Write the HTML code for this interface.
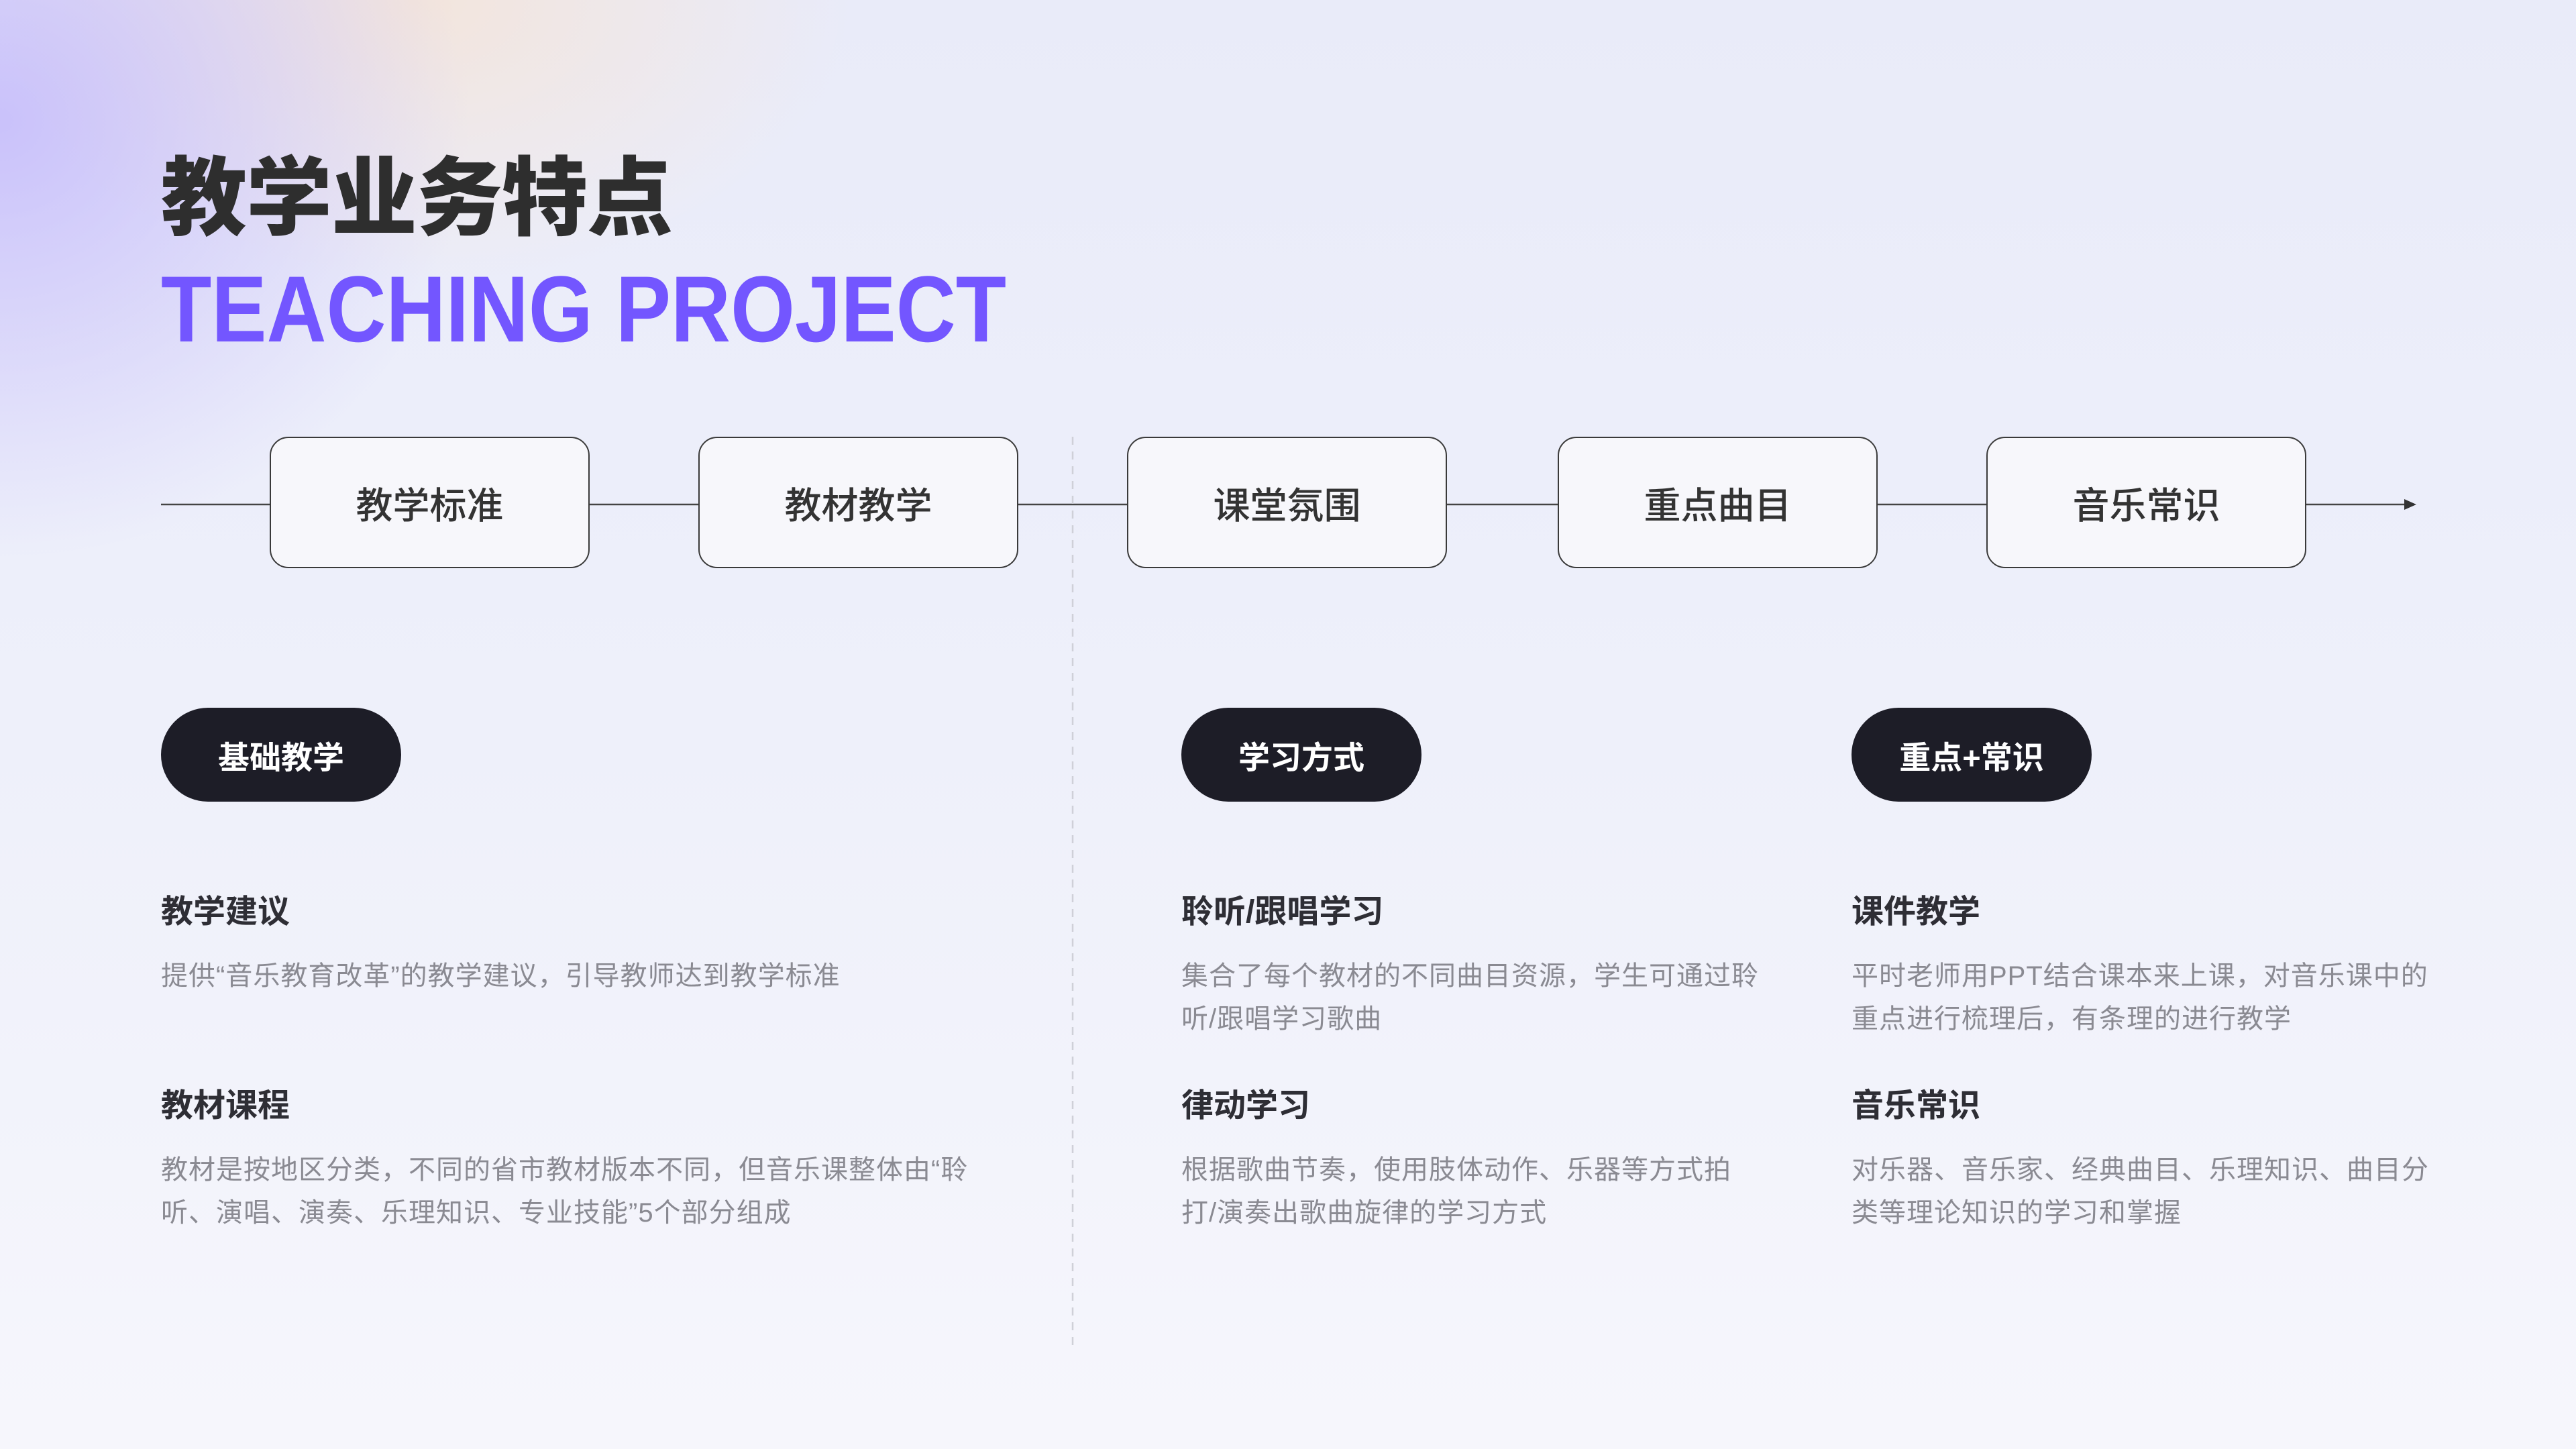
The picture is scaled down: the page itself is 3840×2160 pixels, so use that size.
<!DOCTYPE html>
<html><head><meta charset="utf-8"><style>
*{margin:0;padding:0;box-sizing:border-box}
body{width:3840px;height:2160px;position:relative;overflow:hidden;font-family:"Liberation Sans","Noto Sans CJK SC",sans-serif;
background:
radial-gradient(ellipse 700px 650px at 0px 180px, rgba(196,186,250,0.85), rgba(196,186,250,0) 100%),
radial-gradient(ellipse 650px 420px at 620px 0px, rgba(245,228,215,0.85), rgba(245,228,215,0) 100%),
linear-gradient(180deg,#e9ebf9 0%,#eef0fa 50%,#f6f6fc 100%);}
.abs{position:absolute}
.box{position:absolute;top:651px;width:477px;height:196px;border:2.5px solid #3a3a3a;border-radius:28px;background:#f7f7fb;display:flex;align-items:center;justify-content:center;font-size:55px;font-weight:500;color:#333}
.pill{position:absolute;top:1055px;width:358px;height:140px;border-radius:70px;background:#1d1d27;color:#fff;font-size:47px;font-weight:700;display:flex;align-items:center;justify-content:center}
.h{position:absolute;font-size:48px;font-weight:700;color:#2e2e35;line-height:64px}
.p{position:absolute;font-size:40px;color:#8a8a92;line-height:64px;white-space:nowrap;letter-spacing:1px}
</style></head><body>
<div class="abs" style="left:240px;top:222px;font-size:128px;font-weight:900;color:#2e2e2e;line-height:150px;letter-spacing:-1px">教学业务特点</div>
<svg class="abs" style="left:0;top:0" width="3840" height="2160">
<text x="240" y="509" textLength="1260" lengthAdjust="spacingAndGlyphs" font-family="Liberation Sans" font-weight="700" font-size="140" fill="#7356ff">TEACHING PROJECT</text>
<line x1="240" y1="752" x2="3590" y2="752" stroke="#444" stroke-width="2.5"/>
<polygon points="3602,752 3584,744 3584,760" fill="#333"/>
<line x1="1599" y1="651" x2="1599" y2="2013" stroke="#cfd0d8" stroke-width="2.5" stroke-dasharray="12 10"/>
</svg>
<div class="box" style="left:402px">教学标准</div>
<div class="box" style="left:1041px">教材教学</div>
<div class="box" style="left:1680px">课堂氛围</div>
<div class="box" style="left:2322px">重点曲目</div>
<div class="box" style="left:2961px">音乐常识</div>

<div class="pill" style="left:240px">基础教学</div>
<div class="pill" style="left:1761px">学习方式</div>
<div class="pill" style="left:2760px">重点+常识</div>

<div class="h" style="left:240px;top:1328px">教学建议</div>
<div class="p" style="left:240px;top:1423px">提供“音乐教育改革”的教学建议，引导教师达到教学标准</div>
<div class="h" style="left:240px;top:1617px">教材课程</div>
<div class="p" style="left:240px;top:1712px">教材是按地区分类，不同的省市教材版本不同，但音乐课整体由“聆<br>听、演唱、演奏、乐理知识、专业技能”5个部分组成</div>

<div class="h" style="left:1761px;top:1328px">聆听/跟唱学习</div>
<div class="p" style="left:1761px;top:1423px">集合了每个教材的不同曲目资源，学生可通过聆<br>听/跟唱学习歌曲</div>
<div class="h" style="left:1761px;top:1617px">律动学习</div>
<div class="p" style="left:1761px;top:1712px">根据歌曲节奏，使用肢体动作、乐器等方式拍<br>打/演奏出歌曲旋律的学习方式</div>

<div class="h" style="left:2760px;top:1328px">课件教学</div>
<div class="p" style="left:2760px;top:1423px">平时老师用PPT结合课本来上课，对音乐课中的<br>重点进行梳理后，有条理的进行教学</div>
<div class="h" style="left:2760px;top:1617px">音乐常识</div>
<div class="p" style="left:2760px;top:1712px">对乐器、音乐家、经典曲目、乐理知识、曲目分<br>类等理论知识的学习和掌握</div>
</body></html>
